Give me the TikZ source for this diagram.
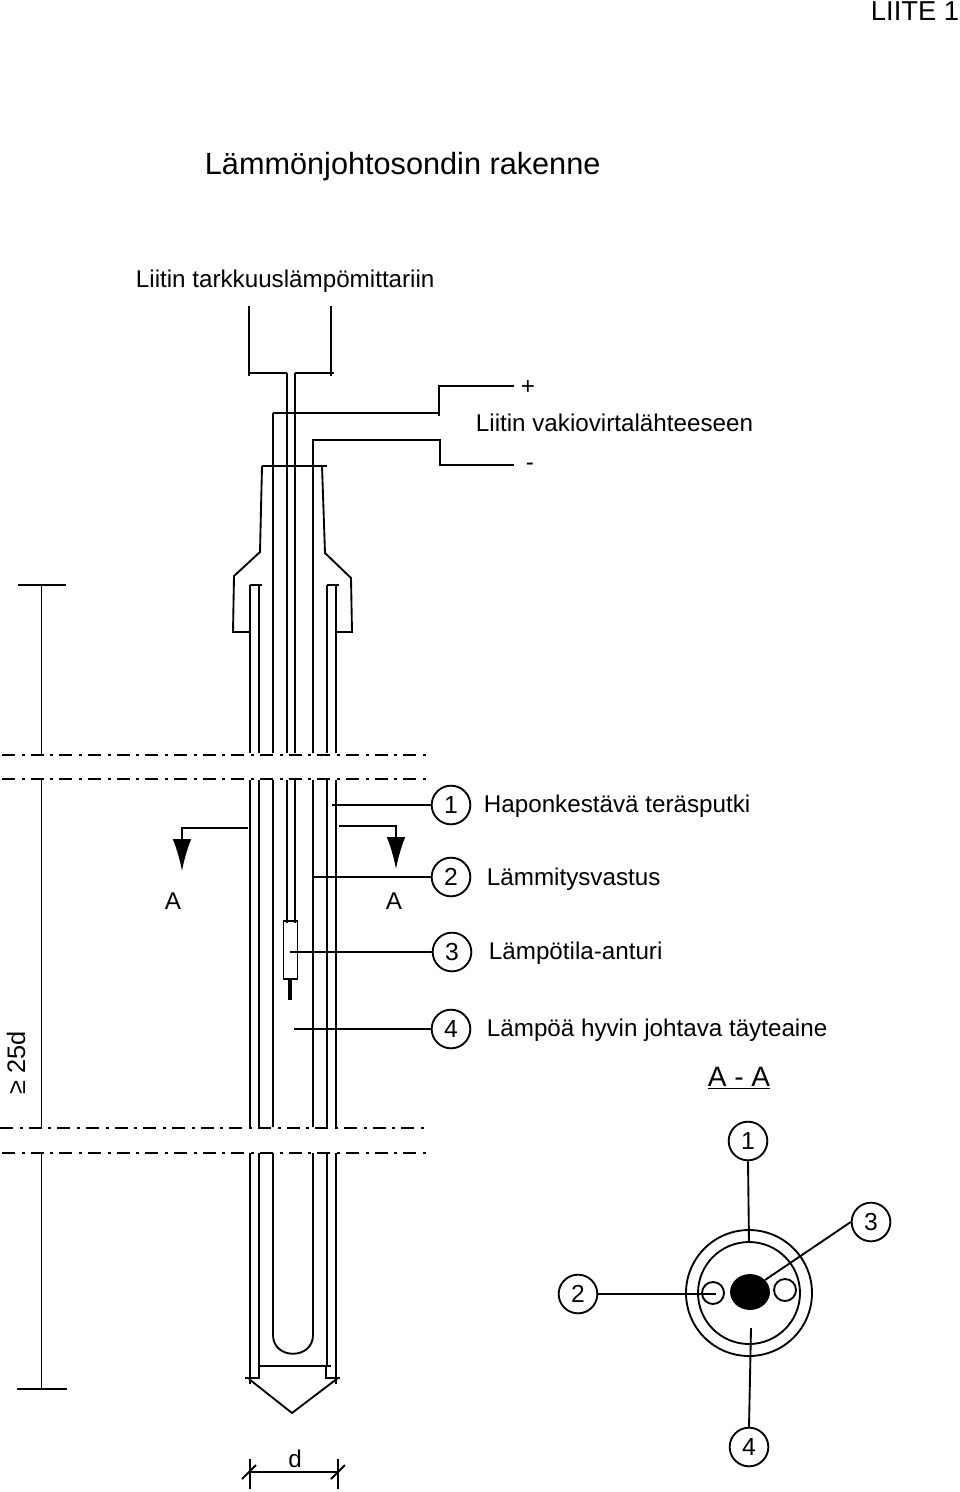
\documentclass[tikz,border=0pt]{standalone}
\usepackage{fontspec}
\setmainfont{Liberation Sans}
\usetikzlibrary{arrows.meta}
\tikzset{>={Latex[width=14pt,length=24pt]}}

\begin{document}
\begin{tikzpicture}[x=0.75pt,y=-0.75pt,font=\fontsize{18.15}{20}\selectfont,line width=1.4pt]
\tikzstyle{c}=[circle,draw,inner sep=0,minimum size=29pt,font=\fontsize{18.5}{20}\selectfont]
\tikzstyle{t}=[anchor=west,inner sep=0]
\tikzstyle{d}=[dash pattern=on 9.75pt off 5pt on 2.25pt off 4.5pt]

    \useasboundingbox (0,0) rectangle (960,1492);

    % texts
    \node[anchor=east,inner sep=0,font=\fontsize{20.5}{24}\selectfont] (page) at (960,11){LIITE 1};
    \node[t,font=\fontsize{23}{26}\selectfont] (title) at (204,167){Lämmönjohtosondin rakenne};
    \node[t] (t0) at (135,281){Liitin tarkkuuslämpömittariin};
    \node[t] (t5) at (475,423){Liitin vakiovirtalähteeseen};
    \node[inner sep=0] (plus) at (528,388){+};
    \node[inner sep=0] (minus) at (530,467){-};
    \node[t] (t1) at (483,806){Haponkestävä teräsputki};
    \node[t] (t2) at (486,879){Lämmitysvastus};
    \node[t] (t3) at (488,953){Lämpötila-anturi};
    \node[t] (t4) at (486,1030){Lämpöä hyvin johtava täyteaine};
    \node[inner sep=0] (al) at (173,901){A};
    \node[inner sep=0] (ar) at (394,901){A};
    \node[inner sep=0,font=\fontsize{21}{24}\selectfont] (aa) at (739,1078){\underline{A - A}};
    \node[inner sep=0,rotate=90,font=\fontsize{19}{20}\selectfont] (len) at (16,1063){≥ 25d};
    \node[inner sep=0] (dd) at (295,1459){d};

    % callouts
    \node[c] (1) at (451,805){1};
    \node[c] (2) at (451,877){2};
    \node[c] (3) at (452,952){3};
    \node[c] (4) at (451,1029){4};
    \node[c] (s1) at (748,1141){1};
    \node[c] (s2) at (578,1294){2};
    \node[c] (s3) at (871,1222){3};
    \node[c] (s4) at (749,1447){4};

    \coordinate (e1) at (332,805);
    \coordinate (e2) at (314,877);
    \coordinate (e3) at (290,952);
    \coordinate (e4) at (294,1029);
    \coordinate (f1) at (749,1242);
    \coordinate (f2) at (716,1294);
    \coordinate (f3) at (765,1280);
    \coordinate (f4) at (751,1328);

    \draw (1.west) -- (e1);
    \draw (2.west) -- (e2);
    \draw (3.west) -- (e3);
    \draw (4.west) -- (e4);
    \draw (s1.south) -- (f1);
    \draw (s2.east) -- (f2);
    \draw (s3.west) -- (f3);
    \draw (s4.north) -- (f4);

    % connector and wires at the top
    \draw (249,306) -- (249,376) (249,373) -- (287,373);
    \draw (331,306) -- (331,376) (334,373) -- (295,373);
    \draw (514,386) -- (439,386) -- (439,416) (439,413) -- (273,413);
    \draw (514,465) -- (440,465) -- (440,440) (441,440) -- (312,440);

    % body
    \draw (262,466) -- (260,552) -- (234,576) -- (233,632) -- (250,632);
    \draw (322,466) -- (325,553) -- (351,578) -- (352,632) -- (337,632);
    \draw (262,466) -- (327,466);
    \draw (262,585) -- (249.5,585) (339,585) -- (327,585);

    % tube walls
    \draw (250,585) -- (250,753) (250,780) -- (250,1127) (250,1153) -- (250,1384);
    \draw (259,585) -- (259,753) (259,780) -- (259,1127) (259,1153) -- (259,1378) -- (245,1378);
    \draw (327,585) -- (327,753) (327,780) -- (327,1127) (327,1153) -- (327,1366) (326,1366) -- (326,1378) -- (340,1378);
    \draw (336,585) -- (336,753) (336,780) -- (336,1127) (336,1153) -- (336,1384);

    % heater
    \draw (273,413) -- (273,753) (273,780) -- (273,1127) (273,1153) -- (273,1335) .. controls (273,1360) and (313,1360) .. (313,1335) -- (313,1153) (313,1127) -- (313,780) (313,753) -- (313,440);

    % sensor
    \draw (287,373) -- (287,753) (287,780) -- (287,923);
    \draw (295,373) -- (295,753) (295,780) -- (295,923);
    \draw (283.5,921) rectangle (297.5,979);
    \draw[line width=2.8pt] (290,979) -- (290,1000);

    % tip
    \draw (259,1366) -- (331,1366);
    \draw (249,1379) -- (292,1413) -- (338,1378);

    % breaks
    \draw[d] (2,755) -- (426,755);
    \draw[d] (2,779) -- (426,779);
    \draw[d] (0,1128) -- (424,1128);
    \draw[d] (2,1153) -- (426,1153);

    % length
    \draw (18,585) -- (66,585) (41.5,585) -- (41.5,754) (41.5,780) -- (41.5,1127) (41.5,1153) -- (41.5,1389) (17,1389) -- (67,1389);

    % section marks
    \draw[->] (248,828) -- (182,828) -- (182,871);
    \draw[->] (339,826) -- (396,826) -- (396,869);

    % d
    \draw (250,1459) -- (250,1489) (338,1459) -- (338,1489) (250,1472) -- (338,1472);
    \draw (242,1479) -- (256,1465) (331,1479) -- (345,1465);

    % section A-A
    \draw (749,1293) circle [radius=63];
    \draw (749,1293) circle [radius=51];
    \draw (713,1293) circle [radius=11];
    \draw (785,1290) circle [radius=11];
    \draw[fill=black] (750,1292) ellipse [x radius=19,y radius=17];

\end{tikzpicture}
\end{document}
